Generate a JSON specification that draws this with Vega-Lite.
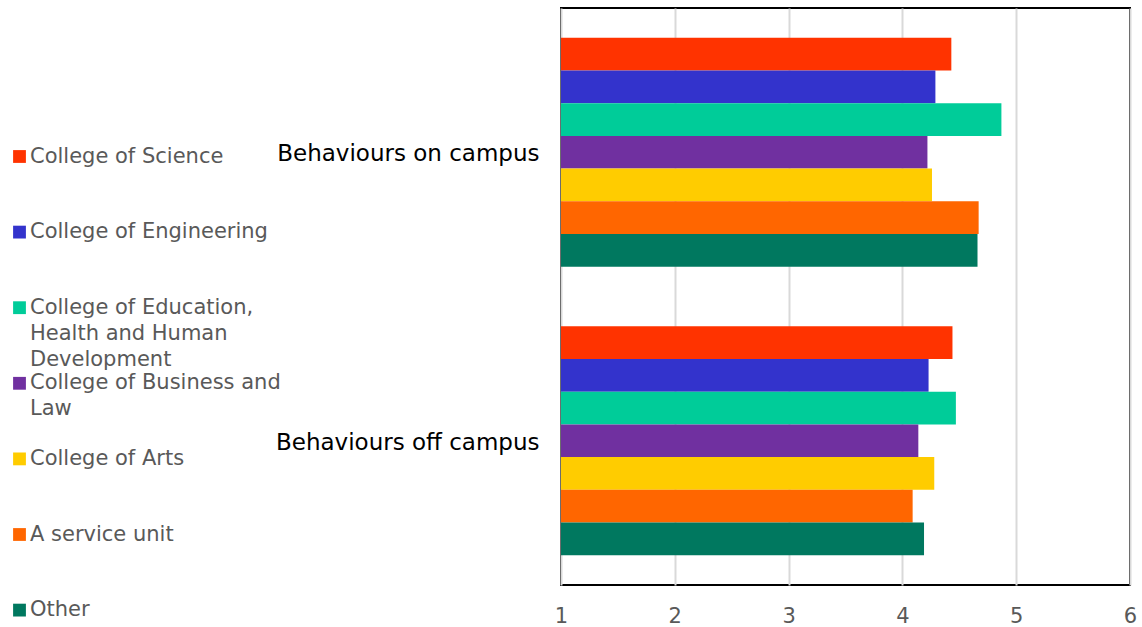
{
  "$schema": "https://vega.github.io/schema/vega-lite/v6.json",
  "width": 569,
  "height": 577,
  "autosize": {"type": "none"},
  "padding": {"left": 561, "top": 8, "right": 12, "bottom": 42},
  "background": "#ffffff",
  "data": {
    "values": [
      {"category": "Behaviours on campus", "college": "College of Science", "score": 4.43},
      {"category": "Behaviours on campus", "college": "College of Engineering", "score": 4.29},
      {"category": "Behaviours on campus", "college": "College of Education, Health and Human Development", "score": 4.87},
      {"category": "Behaviours on campus", "college": "College of Business and Law", "score": 4.22},
      {"category": "Behaviours on campus", "college": "College of Arts", "score": 4.26},
      {"category": "Behaviours on campus", "college": "A service unit", "score": 4.67},
      {"category": "Behaviours on campus", "college": "Other", "score": 4.66},
      {"category": "Behaviours off campus", "college": "College of Science", "score": 4.44},
      {"category": "Behaviours off campus", "college": "College of Engineering", "score": 4.23},
      {"category": "Behaviours off campus", "college": "College of Education, Health and Human Development", "score": 4.47},
      {"category": "Behaviours off campus", "college": "College of Business and Law", "score": 4.14},
      {"category": "Behaviours off campus", "college": "College of Arts", "score": 4.28},
      {"category": "Behaviours off campus", "college": "A service unit", "score": 4.09},
      {"category": "Behaviours off campus", "college": "Other", "score": 4.19}
    ]
  },
  "mark": {"type": "bar", "orient": "horizontal"},
  "encoding": {
    "y": {
      "field": "category",
      "type": "nominal",
      "sort": ["Behaviours on campus", "Behaviours off campus"],
      "scale": {"paddingInner": 0.207, "paddingOuter": 0.1035},
      "axis": {
        "title": null,
        "ticks": false,
        "domain": false,
        "labelFont": "DejaVu Sans",
        "labelFontSize": 23,
        "labelColor": "#000000",
        "labelPadding": 22,
        "labelLimit": 400,
        "labelBaseline": "middle",
        "labelOffset": 2
      }
    },
    "yOffset": {
      "field": "college",
      "type": "nominal",
      "sort": [
        "College of Science",
        "College of Engineering",
        "College of Education, Health and Human Development",
        "College of Business and Law",
        "College of Arts",
        "A service unit",
        "Other"
      ],
      "scale": {"paddingInner": 0, "paddingOuter": 0}
    },
    "x": {
      "field": "score",
      "type": "quantitative",
      "scale": {"domain": [1, 6], "zero": false, "nice": false},
      "axis": {
        "title": null,
        "values": [1, 2, 3, 4, 5, 6],
        "ticks": false,
        "domain": false,
        "labelFlush": false,
        "labelFont": "DejaVu Sans",
        "labelFontSize": 21,
        "labelColor": "#595959",
        "labelPadding": 20,
        "gridColor": "#d9d9d9",
        "gridWidth": 2
      }
    },
    "x2": {"datum": 1},
    "color": {
      "field": "college",
      "type": "nominal",
      "sort": [
        "College of Science",
        "College of Engineering",
        "College of Education, Health and Human Development",
        "College of Business and Law",
        "College of Arts",
        "A service unit",
        "Other"
      ],
      "scale": {
        "domain": [
          "College of Science",
          "College of Engineering",
          "College of Education, Health and Human Development",
          "College of Business and Law",
          "College of Arts",
          "A service unit",
          "Other"
        ],
        "range": ["#ff3300", "#3333cc", "#00cc99", "#7030a0", "#ffcc00", "#ff6600", "#00785f"]
      },
      "legend": {
        "title": null,
        "orient": "none",
        "legendX": -552,
        "legendY": 138,
        "symbolType": "square",
        "symbolSize": 164,
        "symbolStrokeWidth": 0,
        "symbolOpacity": 1,
        "labelFont": "DejaVu Sans",
        "labelFontSize": 21,
        "labelColor": "#595959",
        "labelOffset": 0,
        "labelLimit": 300,
        "labelBaseline": "top",
        "labelExpr": "datum.label == 'College of Education, Health and Human Development' ? ['College of Education,', 'Health and Human', 'Development'] : datum.label == 'College of Business and Law' ? ['College of Business and', 'Law', ''] : [datum.label, '', '']",
        "rowPadding": 1.6,
        "encode": {
          "labels": {"update": {"dy": {"value": -11}, "lineHeight": {"value": 26}}}
        }
      }
    }
  },
  "config": {
    "view": {"stroke": "#000000", "strokeWidth": 2}
  }
}
